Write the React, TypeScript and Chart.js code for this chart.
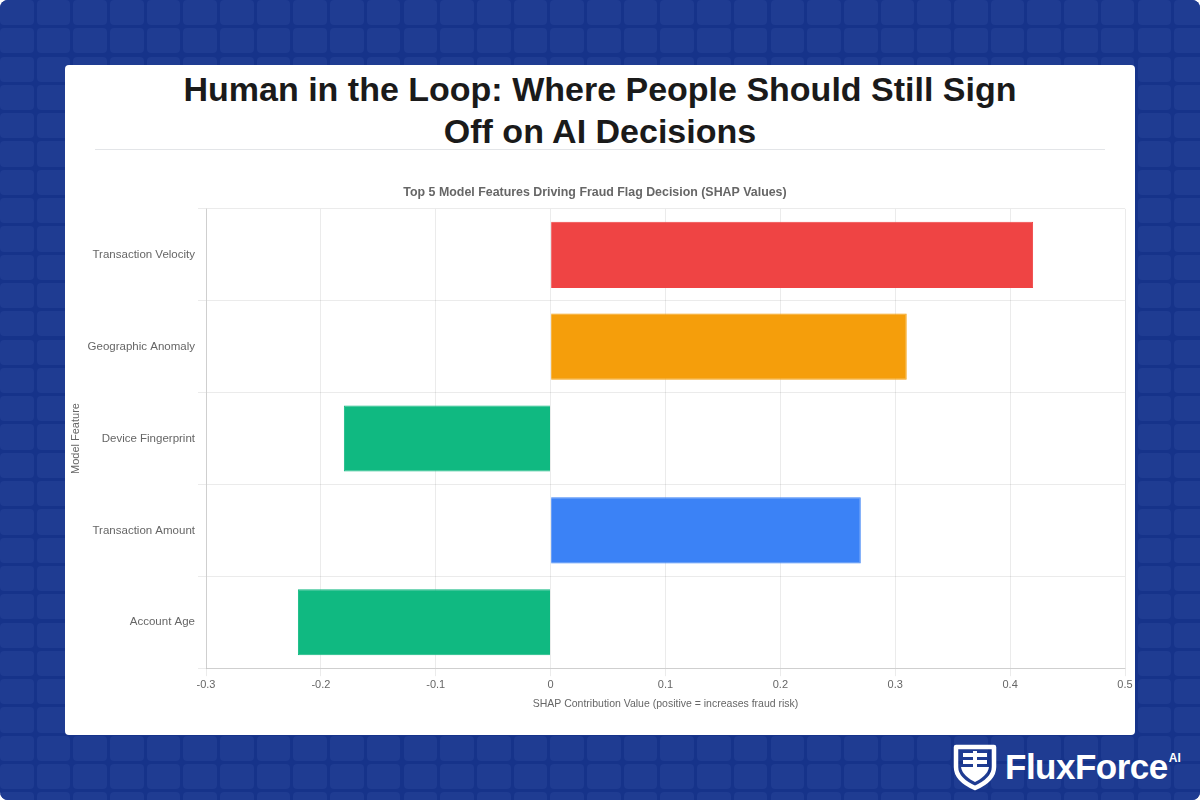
import React, { useEffect, useRef } from "react";
import { Chart, registerables } from "chart.js";

Chart.register(...registerables);

const features = [
  "Transaction Velocity",
  "Geographic Anomaly",
  "Device Fingerprint",
  "Transaction Amount",
  "Account Age",
];
const shapValues = [0.42, 0.31, -0.18, 0.27, -0.22];
const barColors = ["#ef4444", "#f59e0b", "#10b981", "#3b82f6", "#10b981"];
const xMin = -0.3;
const xMax = 0.5;
const xStep = 0.1;

const mainTitleLines = ["Human in the Loop: Where People Should Still Sign", "Off on AI Decisions"];
const chartTitle = "Top 5 Model Features Driving Fraud Flag Decision (SHAP Values)";
const xTitle = "SHAP Contribution Value (positive = increases fraud risk)";
const yTitle = "Model Feature";

const FONT = "'Liberation Sans', Arial, Helvetica, sans-serif";

function Background() {
  const cells: React.ReactNode[] = [];
  const pw = 36.7;
  const ph = 28.3;
  const ox = -1.7;
  const oy = -1.6;
  const gap = 3;
  for (let r = 0; r < 30; r++) {
    for (let c = 0; c < 34; c++) {
      cells.push(
        <div
          key={r + "-" + c}
          style={{
            position: "absolute",
            left: ox + c * pw + gap / 2,
            top: oy + r * ph + gap / 2,
            width: pw - gap,
            height: ph - gap,
            borderRadius: 4,
            background: "#1f3c92",
          }}
        />
      );
    }
  }
  return <>{cells}</>;
}

function Logo() {
  return (
    <div style={{ position: "absolute", left: 952, top: 743, height: 48, display: "flex", alignItems: "center" }}>
      <svg width="46" height="48" viewBox="0 0 46 48">
        <path
          d="M4 4 H42 V24 C42 34 32 41 23 45 C14 41 4 34 4 24 Z"
          fill="none"
          stroke="#ffffff"
          strokeWidth="4.5"
          strokeLinejoin="round"
        />
        <path d="M9 24 H37 C36 31 29 36 23 39 C17 36 10 31 9 24 Z" fill="#ffffff" />
        <rect x="11" y="10" width="24" height="4" fill="#ffffff" />
        <rect x="11" y="17" width="24" height="4" fill="#ffffff" />
        <rect x="21" y="8" width="4" height="16" fill="#ffffff" />
      </svg>
      <span
        style={{
          color: "#ffffff",
          fontFamily: FONT,
          fontWeight: 700,
          fontSize: 35,
          marginLeft: 7,
          letterSpacing: -0.5,
        }}
      >
        FluxForce
      </span>
      <span
        style={{
          color: "#ffffff",
          fontFamily: FONT,
          fontWeight: 700,
          fontSize: 12,
          alignSelf: "flex-start",
          marginTop: 8,
          marginLeft: 1,
        }}
      >
        AI
      </span>
    </div>
  );
}

export default function App() {
  const canvasRef = useRef<HTMLCanvasElement | null>(null);

  useEffect(() => {
    document.body.style.margin = "0";
    if (!canvasRef.current) return;
    const chart = new Chart(canvasRef.current, {
      type: "bar",
      data: {
        labels: features,
        datasets: [
          {
            data: shapValues,
            backgroundColor: barColors,
            borderColor: barColors,
            borderWidth: 1,
            barPercentage: 0.9,
            categoryPercentage: 0.8,
          },
        ],
      },
      options: {
        indexAxis: "y",
        animation: false,
        responsive: false,
        maintainAspectRatio: false,
        layout: { padding: { top: 0, right: 10, bottom: 0, left: 0 } },
        plugins: {
          legend: { display: false },
          tooltip: { enabled: false },
          title: {
            display: true,
            text: chartTitle,
            color: "#666666",
            font: { family: FONT, size: 12.4, weight: "bold" },
            padding: { top: 10, bottom: 9 },
          },
        },
        scales: {
          x: {
            type: "linear",
            min: xMin,
            max: xMax,
            ticks: {
              stepSize: xStep,
              padding: 2,
              color: "#666666",
              font: { family: FONT, size: 11 },
              callback: (v: any) => String(Math.round(Number(v) * 10) / 10),
            },
            grid: { color: "rgba(0,0,0,0.08)" },
            border: { color: "rgba(0,0,0,0.12)" },
            title: {
              display: true,
              text: xTitle,
              color: "#666666",
              font: { family: FONT, size: 10.5 },
              padding: { top: 4, bottom: 4 },
            },
          },
          y: {
            ticks: { color: "#666666", font: { family: FONT, size: 11.5 } },
            grid: { color: "rgba(0,0,0,0.08)" },
            border: { color: "rgba(0,0,0,0.12)" },
            title: {
              display: true,
              text: yTitle,
              color: "#666666",
              font: { family: FONT, size: 11 },
            },
            afterFit: (axis: any) => {
              axis.width = 141;
            },
          },
        },
      },
    });
    return () => chart.destroy();
  }, []);

  return (
    <div
      style={{
        position: "absolute",
        left: 0,
        top: 0,
        width: 1200,
        height: 800,
        overflow: "hidden",
        background: "#16338a",
        borderRadius: 8,
      }}
    >
      <Background />
      <div
        style={{
          position: "absolute",
          left: 65,
          top: 65,
          width: 1070,
          height: 670,
          background: "#ffffff",
          borderRadius: 4,
        }}
      >
        <div
          style={{
            position: "absolute",
            left: 0,
            top: 3,
            width: 1070,
            textAlign: "center",
            fontFamily: FONT,
            fontWeight: 700,
            fontSize: 34,
            lineHeight: "42px",
            color: "#1a1a1a",
          }}
        >
          {mainTitleLines[0]}
          <br />
          {mainTitleLines[1]}
        </div>
        <div
          style={{
            position: "absolute",
            left: 30,
            top: 84,
            width: 1010,
            height: 1,
            background: "#e3e5e8",
          }}
        />
        <canvas
          ref={canvasRef}
          width={1070}
          height={539}
          style={{ position: "absolute", left: 0, top: 110, width: 1070, height: 539 }}
        />
      </div>
      <Logo />
    </div>
  );
}
